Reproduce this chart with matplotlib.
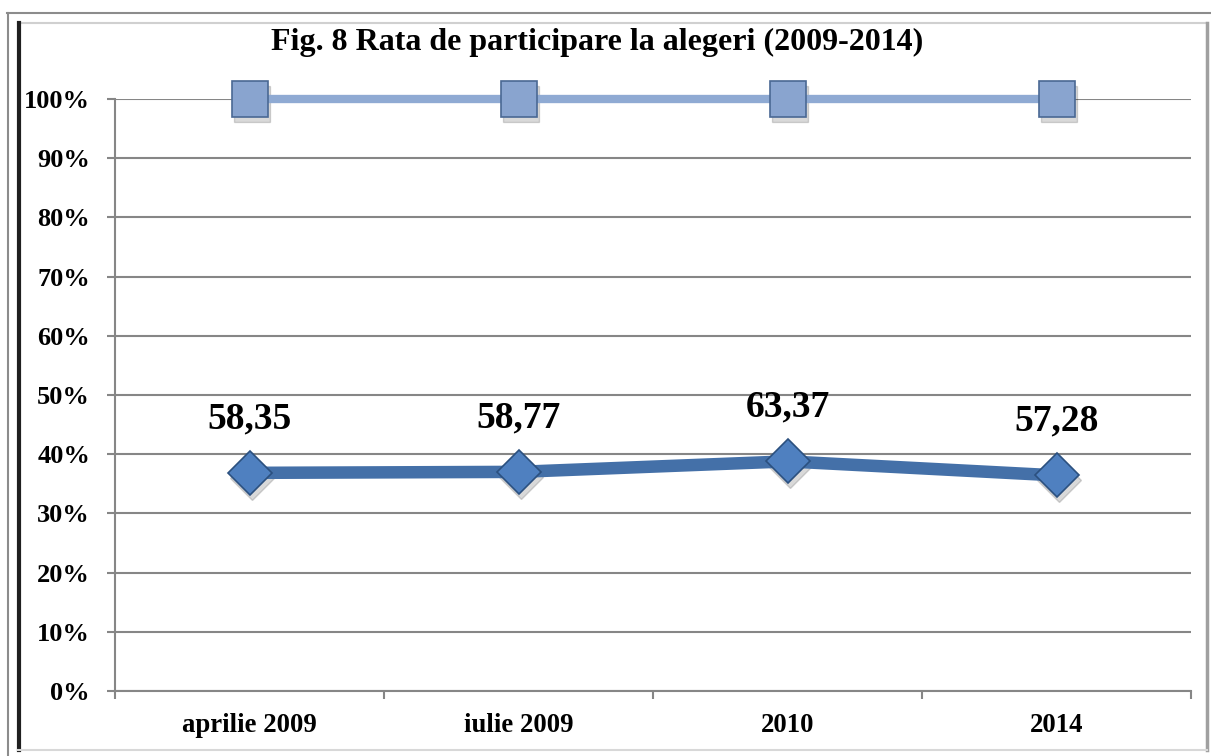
import matplotlib
matplotlib.use('Agg')
import matplotlib.pyplot as plt
from matplotlib.lines import Line2D
import numpy as np

# data (100% stacked line: turnout vs. a constant 100 series)
categories = ['aprilie 2009', 'iulie 2009', '2010', '2014']
turnout = [58.35, 58.77, 63.37, 57.28]
rest = [100, 100, 100, 100]
yticks = [0, 0.1, 0.2, 0.3, 0.4, 0.5, 0.6, 0.7, 0.8, 0.9, 1.0]
ytick_labels = ['0%', '10%', '20%', '30%', '40%', '50%', '60%', '70%', '80%', '90%', '100%']

plt.rcParams['font.family'] = ['Liberation Serif', 'DejaVu Serif']
plt.rcParams['font.weight'] = 'bold'

W, H = 1211, 756
fig = plt.figure(figsize=(W / 100, H / 100), dpi=100)

# frames around the chart
fig.add_artist(Line2D([7 / W, 1], [1 - 13 / H, 1 - 13 / H], color='#8c8c8c', lw=1.5))
fig.add_artist(Line2D([8 / W, 8 / W], [0, 1 - 13 / H], color='#8c8c8c', lw=1.5))
fig.add_artist(Line2D([18 / W, 1207 / W], [1 - 23 / H, 1 - 23 / H], color='#d0d0d0', lw=1.5))
fig.add_artist(Line2D([18.5 / W, 18.5 / W], [6 / H, 1 - 23 / H], color='#202020', lw=3))
fig.add_artist(Line2D([1207 / W, 1207 / W], [6 / H, 1 - 23 / H], color='#a0a0a0', lw=2.5))
fig.add_artist(Line2D([18 / W, 1207 / W], [6 / H, 6 / H], color='#d8d8d8', lw=1.5))

ax = fig.add_axes([115 / W, (H - 691) / H, 1076 / W, 592 / H])

tot = np.array(turnout) + np.array(rest)
share = np.array(turnout) / tot
top = tot / tot
x = np.arange(len(categories))

# soft shadows under the markers
ax.plot(x + 0.01, top - 0.008, ls='none', marker='s', ms=26, color='#000000',
        alpha=0.15, zorder=2, clip_on=False)
ax.plot(x + 0.01, share - 0.008, ls='none', marker='D', ms=22, color='#000000',
        alpha=0.15, zorder=2, clip_on=False)

ax.plot(x, top, color='#8FAAD3', lw=6, marker='s', ms=26, clip_on=False,
        markerfacecolor='#89A4CF', markeredgecolor='#4A6894', markeredgewidth=1.2, zorder=3)
ax.plot(x, share, color='#4470A8', lw=9, marker='D', ms=22, clip_on=False,
        markerfacecolor='#4F80C0', markeredgecolor='#2B507F', markeredgewidth=1.2, zorder=4)

for xi, yi, v in zip(x, share, turnout):
    ax.annotate(f'{v:.2f}'.replace('.', ','), (xi, yi), xytext=(0, 39),
                textcoords='offset points', ha='center', va='center',
                fontsize=27, fontweight='bold')

ax.set_xlim(-0.5, len(categories) - 0.5)
ax.set_ylim(0, 1)
ax.set_yticks(yticks)
ax.set_yticklabels(ytick_labels, fontsize=19, fontweight='bold')
ax.set_xticks(x)
ax.set_xticklabels(categories, fontsize=19.3, fontweight='bold')
ax.set_xticks(np.arange(-0.5, len(categories)), minor=True)
ax.tick_params(axis='x', which='major', length=0, pad=16)
ax.tick_params(axis='x', which='minor', length=6, width=1.5, color='#868686', direction='out')
ax.tick_params(axis='y', length=6, width=1.5, color='#868686', pad=12)
ax.yaxis.grid(True, color='#868686', lw=1.5)
ax.set_axisbelow(True)
for s in ['top', 'right']:
    ax.spines[s].set_visible(False)
for s in ['left', 'bottom']:
    ax.spines[s].set_color('#868686')
    ax.spines[s].set_linewidth(1.5)

fig.text(597 / W, 1 - 42 / H, 'Fig. 8 Rata de participare la alegeri (2009-2014)',
         ha='center', va='center', fontsize=23, fontweight='bold')

fig.savefig('out.png', dpi=100)
